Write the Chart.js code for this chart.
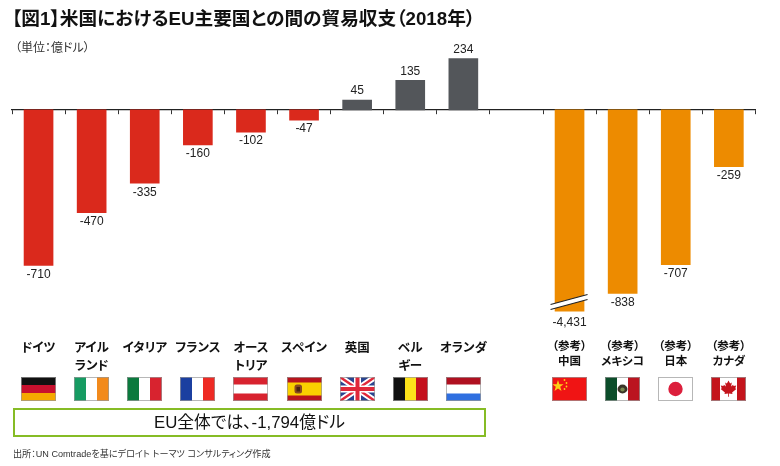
<!DOCTYPE html>
<html lang="ja">
  <head>
    <meta charset="UTF-8" />
    <title>米国におけるEU主要国との間の貿易収支（2018年）</title>
    <script src="https://cdn.jsdelivr.net/npm/chart.js@4"></script>
    <style>
      html, body {
        margin: 0;
        padding: 0;
        background: #fff;
      }
      body {
        font-family: "Liberation Sans", "Noto Sans CJK JP", sans-serif;
        font-feature-settings: "palt";
        color: #111;
        width: 780px;
        height: 466px;
        position: relative;
        overflow: hidden;
      }
      #myChart {
        position: absolute;
        left: 0;
        top: 0;
      }
      .abs {
        position: absolute;
        white-space: nowrap;
      }
      #title {
        left: 12px;
        top: 6px;
        margin: 0;
        font-size: 18.7px;
        line-height: 26px;
        font-weight: bold;
      }
      #unit {
        left: 15px;
        top: 40px;
        font-size: 12px;
        line-height: 16px;
        color: #333;
      }
      #euBox {
        left: 13px;
        top: 408px;
        width: 469px;
        height: 25px;
        border: 2.5px solid #86bc25;
        text-align: center;
        font-size: 16.8px;
        line-height: 25px;
      }
      #source {
        left: 13px;
        top: 447px;
        font-size: 9.1px;
        line-height: 14px;
        color: #333;
      }
      .cat {
        text-align: center;
        transform: translateX(-50%);
        top: 339px;
        font-size: 12.5px;
        line-height: 18px;
        font-weight: bold;
      }
      .cat.ref {
        font-size: 11.5px;
        line-height: 15px;
      }
      .flag {
        position: absolute;
        top: 377px;
        display: block;
      }
    </style>
  </head>
  <body>
    <canvas id="myChart" width="780" height="466"></canvas>
    <h2 id="title" class="abs">【図1】米国におけるEU主要国との間の貿易収支（2018年）</h2>
    <div id="unit" class="abs">（単位：億ドル）</div>
    <div id="euBox" class="abs">EU全体では、-1,794億ドル</div>
    <div id="source" class="abs">出所：UN Comtradeを基にデロイト トーマツ コンサルティング作成</div>
    <div id="cats"></div>

    <script>
      // データ（単位：億ドル）
      const categories = [
        "ドイツ", "アイル\nランド", "イタリア", "フランス", "オース\nトリア", "スペイン", "英国",
        "ベル\nギー", "オランダ", "", "（参考）\n中国", "（参考）\nメキシコ", "（参考）\n日本", "（参考）\nカナダ",
      ];
      const balance = [-710, -470, -335, -160, -102, -47, 45, 135, 234, null, -4431, -838, -707, -259];
      const barColors = [
        "#da291c", "#da291c", "#da291c", "#da291c", "#da291c", "#da291c",
        "#53565a", "#53565a", "#53565a", null,
        "#ed8b00", "#ed8b00", "#ed8b00", "#ed8b00",
      ];
      const valueLabels = ["-710", "-470", "-335", "-160", "-102", "-47", "45", "135", "234", "", "-4,431", "-838", "-707", "-259"];
      const flags = ["de", "ie", "it", "fr", "at", "es", "gb", "be", "nl", "", "cn", "mx", "jp", "ca"];

      // 中国の棒は軸の下端で切れる（省略マークあり）
      const axisMin = -921;
      const axisMax = 340;
      const brokenIndex = 10;

      const valueLabelPlugin = {
        id: "valueLabels",
        afterDatasetsDraw(chart) {
          const { ctx, chartArea } = chart;
          const bars = chart.getDatasetMeta(0).data;
          ctx.save();
          ctx.font = '12px "Liberation Sans", sans-serif';
          ctx.fillStyle = "#222";
          ctx.textAlign = "center";
          ctx.textBaseline = "middle";
          bars.forEach((bar, i) => {
            if (balance[i] === null) return;
            const end = Math.min(bar.y, chartArea.bottom);
            let y = balance[i] < 0 ? end + 9 : end - 9;
            if (i === brokenIndex) y = end + 11;
            ctx.fillText(valueLabels[i], bar.x, y);
          });

          // 軸の省略マーク
          const b = bars[brokenIndex];
          const x0 = b.x - 19;
          const x1 = b.x + 18;
          const yb = chartArea.bottom;
          ctx.fillStyle = "#fff";
          ctx.beginPath();
          ctx.moveTo(x0, yb - 7);
          ctx.lineTo(x1, yb - 17);
          ctx.lineTo(x1, yb - 12);
          ctx.lineTo(x0, yb - 2);
          ctx.closePath();
          ctx.fill();
          ctx.strokeStyle = "#222";
          ctx.lineWidth = 1.2;
          ctx.beginPath();
          ctx.moveTo(x0, yb - 7);
          ctx.lineTo(x1, yb - 17);
          ctx.moveTo(x0, yb - 2);
          ctx.lineTo(x1, yb - 12);
          ctx.stroke();
          ctx.restore();
        },
      };

      const chart = new Chart(document.getElementById("myChart").getContext("2d"), {
        type: "bar",
        data: {
          labels: categories,
          datasets: [
            {
              data: balance,
              backgroundColor: barColors,
              barThickness: 29,
            },
          ],
        },
        options: {
          responsive: false,
          animation: false,
          layout: { padding: { left: 12, right: 24.6, top: 35.4, bottom: 154.5 } },
          plugins: {
            legend: { display: false },
            title: { display: false },
            tooltip: { enabled: false },
          },
          scales: {
            x: {
              position: { y: 0 },
              grid: {
                drawOnChartArea: false,
                drawTicks: true,
                tickLength: 4,
                color: "#333",
              },
              border: { color: "#222", width: 1.2 },
              ticks: { display: false },
            },
            y: {
              display: false,
              min: axisMin,
              max: axisMax,
            },
          },
        },
        plugins: [valueLabelPlugin],
      });

      // 国旗
      function flagSvg(code) {
        const w = 35;
        const h = 24;
        const edge = `<rect x=".5" y=".5" width="${w - 1}" height="${h - 1}" fill="none" stroke="#999" stroke-width="1" opacity=".7"/>`;
        const vert = (a, b, c) =>
          `<rect width="12" height="24" fill="${a}"/><rect x="12" width="11" height="24" fill="${b}"/><rect x="23" width="12" height="24" fill="${c}"/>`;
        const horiz = (a, b, c, top = 8) =>
          `<rect width="35" height="24" fill="${b}"/><rect width="35" height="${top}" fill="${a}"/><rect y="${24 - top}" width="35" height="${top}" fill="${c}"/>`;
        let body = "";
        if (code === "de") body = horiz("#111", "#c8102e", "#f5a800");
        if (code === "ie") body = vert("#169b62", "#fff", "#f28a1c");
        if (code === "it") body = vert("#0b7a3e", "#fff", "#d8232f");
        if (code === "fr") body = vert("#1b3fa0", "#fff", "#ee2a24");
        if (code === "at") body = horiz("#d8232f", "#fff", "#d8232f", 7.5);
        if (code === "be") body = vert("#111", "#fde21a", "#c4101c");
        if (code === "nl") body = horiz("#b01020", "#fff", "#2f6fe0", 7.5);
        if (code === "es")
          body = `<rect width="35" height="24" fill="#b8141c"/><rect y="5.5" width="35" height="13" fill="#fad000"/><rect x="7.5" y="7.5" width="7.5" height="9" rx="2.5" fill="#8a4a20"/><rect x="9.5" y="10" width="3.5" height="4.5" fill="#4a2410"/>`;
        if (code === "gb")
          body = `<rect width="35" height="24" fill="#2a448f"/><path d="M0 0L35 24M35 0L0 24" stroke="#fff" stroke-width="6"/><path d="M0 0L35 24M35 0L0 24" stroke="#e0283a" stroke-width="2.4"/><path d="M17.5 0V24M0 12H35" stroke="#fff" stroke-width="7"/><path d="M17.5 0V24M0 12H35" stroke="#e0283a" stroke-width="4"/>`;
        if (code === "cn")
          body = `<rect width="35" height="24" fill="#f01414"/><polygon points="6,3 7.4,7.2 11.6,7.2 8.2,9.8 9.5,14 6,11.4 2.5,14 3.8,9.8 .4,7.2 4.6,7.2" fill="#fcd116"/><circle cx="12.5" cy="3" r=".9" fill="#fcd116"/><circle cx="14.5" cy="6" r=".9" fill="#fcd116"/><circle cx="14.5" cy="9.5" r=".9" fill="#fcd116"/><circle cx="12.5" cy="12" r=".9" fill="#fcd116"/>`;
        if (code === "mx")
          body = vert("#0b4d2a", "#fff", "#bb1420") + `<ellipse cx="17.5" cy="12" rx="5" ry="4.4" fill="#3a3428"/><ellipse cx="17.5" cy="12.5" rx="2.2" ry="2" fill="#7a8a50"/>`;
        if (code === "jp")
          body = `<rect width="35" height="24" fill="#fff"/><circle cx="17.5" cy="12" r="7.2" fill="#dc1f3c"/>`;
        if (code === "ca")
          body = `<rect width="35" height="24" fill="#fff"/><rect width="9" height="24" fill="#c4141c"/><rect x="26" width="9" height="24" fill="#c4141c"/><path d="M17.5 3.5l1.6 3 1.7-.9-.7 4 2-1.9.5 1.3 2.6-.5-.9 2.8 1 .6-4.2 3.5.4 1.5-3.6-.5v3.4h-.8v-3.4l-3.6.5.4-1.5-4.2-3.5 1-.6-.9-2.8 2.6.5.5-1.3 2 1.9-.7-4 1.7.9z" fill="#c4141c"/>`;
        return `<svg xmlns="http://www.w3.org/2000/svg" width="${w}" height="${h}" viewBox="0 0 ${w} ${h}">${body}${edge}</svg>`;
      }

      // カテゴリ名と国旗は x 軸の位置に合わせて置く
      const holder = document.getElementById("cats");
      const xScale = chart.scales.x;
      categories.forEach((name, i) => {
        if (!name) return;
        const cx = xScale.getPixelForValue(i);
        const label = document.createElement("div");
        label.className = "abs cat" + (name.startsWith("（参考）") ? " ref" : "");
        label.style.left = cx + "px";
        label.innerHTML = name.replace("\n", "<br>");
        holder.appendChild(label);

        const flag = document.createElement("div");
        flag.className = "flag";
        flag.style.left = Math.round(cx - 17.5) + "px";
        flag.innerHTML = flagSvg(flags[i]);
        holder.appendChild(flag);
      });
    </script>
  </body>
</html>
